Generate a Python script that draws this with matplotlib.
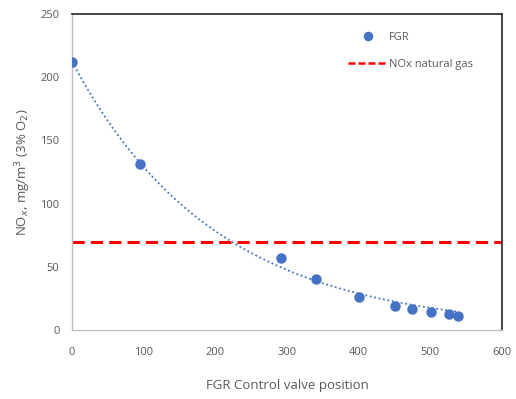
import matplotlib.pyplot as plt
import numpy as np

valve_position = [0, 95, 291, 340, 400, 451, 475, 501, 526, 538]
nox_fgr = [212, 131, 57, 40, 26.5, 19, 16.5, 14, 12.5, 11]
nox_natural_gas = 70

x_ticks = [0, 100, 200, 300, 400, 500, 600]
y_ticks = [0, 50, 100, 150, 200, 250]

blue = "#4472C4"
gray_text = "#595959"

plt.rcParams["font.family"] = ["Open Sans", "DejaVu Sans"]

fig = plt.figure(figsize=(5.16, 3.99), dpi=100)
ax = fig.add_axes([72 / 516, 1 - 330 / 399, 430 / 516, 316 / 399])

# exponential trendline, weighted so it fits in linear space
x = np.asarray(valve_position, dtype=float)
y = np.asarray(nox_fgr, dtype=float)
b, log_a = np.polyfit(x, np.log(y), 1, w=y)
x_fit = np.linspace(x.min(), x.max(), 200)
ax.plot(x_fit, np.exp(log_a + b * x_fit), color=blue, lw=1.3,
        linestyle=(0, (1, 1.5)), zorder=2)

ax.plot(valve_position, nox_fgr, "o", color=blue, ms=6.5, label="FGR", zorder=3)
ax.axhline(nox_natural_gas, color="#FF0000", lw=2.2, linestyle=(0, (4, 2)),
           label="NOx natural gas", zorder=2)

ax.set_xlim(0, 600)
ax.set_ylim(0, 250)
ax.set_xticks(x_ticks)
ax.set_yticks(y_ticks)
ax.tick_params(length=0, labelsize=8, labelcolor=gray_text)
ax.tick_params(axis="x", pad=12)
ax.tick_params(axis="y", pad=9)

for side in ["left", "bottom"]:
    ax.spines[side].set_color("#BFBFBF")
    ax.spines[side].set_linewidth(1.0)
for side in ["top", "right"]:
    ax.spines[side].set_color("#262626")
    ax.spines[side].set_linewidth(1.2)

ax.set_xlabel("FGR Control valve position", fontsize=9.5, color=gray_text,
              labelpad=15)
ax.set_ylabel("NO$_x$, mg/m$^3$ (3% O$_2$)", fontsize=9.5, color=gray_text,
              labelpad=5)

leg = ax.legend(loc="upper right", bbox_to_anchor=(0.955, 0.975), frameon=False,
                fontsize=8, handlelength=3.6, handletextpad=0.1,
                labelspacing=1.45, markerscale=0.9)
for text in leg.get_texts():
    text.set_color(gray_text)
leg.get_lines()[1].set_linewidth(1.8)
leg.get_lines()[1].set_linestyle((0, (2.8, 1.2)))

fig.savefig("out.png", dpi=100)
